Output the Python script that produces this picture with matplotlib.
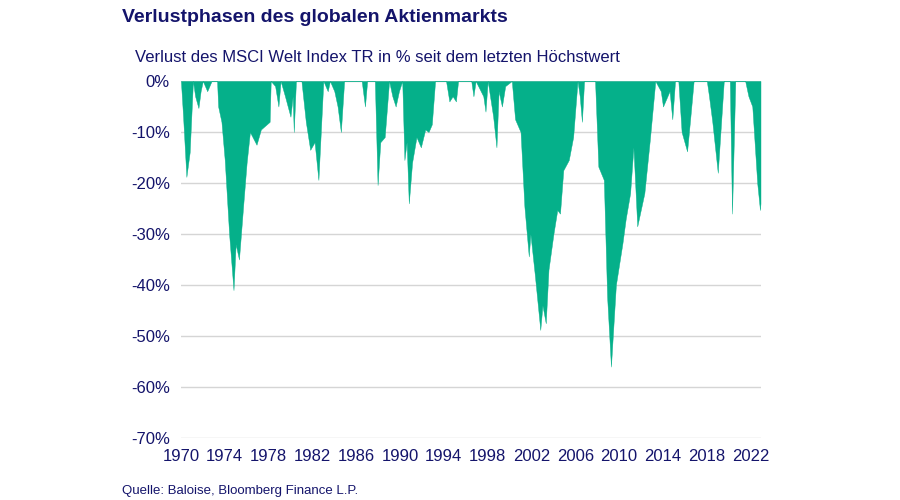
import numpy as np
import matplotlib.pyplot as plt

# drawdown of MSCI World TR (year, % below last high)
years = [1970.0, 1970.2, 1970.5, 1970.8, 1971.1, 1971.3, 1971.6, 1971.8, 1972.0, 1972.4, 1972.6, 1972.8,
         1973.3, 1973.4, 1973.7, 1974.0, 1974.4, 1974.8, 1975.0, 1975.3, 1975.7, 1976.0, 1976.3, 1976.9,
         1977.3, 1978.1, 1978.2, 1978.6, 1978.9, 1979.1, 1979.5, 1980.0, 1980.2, 1980.3, 1980.5, 1981.0,
         1981.4, 1981.8, 1982.2, 1982.55, 1983.0, 1983.4, 1983.6, 1984.0, 1984.3, 1984.6, 1984.9, 1986.5,
         1986.8, 1987.0, 1987.7, 1987.95, 1988.2, 1988.6, 1989.0, 1989.3, 1989.6, 1989.9, 1990.2, 1990.4,
         1990.6, 1990.8, 1991.1, 1991.5, 1991.9, 1992.3, 1992.6, 1992.9, 1993.2, 1994.2, 1994.5, 1994.8,
         1995.1, 1995.3, 1996.5, 1996.7, 1996.9, 1997.6, 1997.8, 1998.0, 1998.5, 1998.8, 1999.0, 1999.3,
         1999.6, 2000.2, 2000.5, 2001.0, 2001.35, 2001.75, 2001.9, 2002.3, 2002.8, 2003.0, 2003.3, 2003.55,
         2004.0, 2004.35, 2004.6, 2004.9, 2005.4, 2005.8, 2006.2, 2006.4, 2006.6, 2006.8, 2007.6, 2007.8,
         2008.1, 2008.6, 2008.9, 2009.25, 2009.7, 2010.3, 2010.6, 2011.0, 2011.3, 2011.65, 2012.3, 2012.8,
         2013.3, 2013.8, 2014.0, 2014.6, 2014.85, 2015.1, 2015.4, 2015.7, 2016.2, 2016.5, 2016.8, 2018.0,
         2018.2, 2018.5, 2019.0, 2019.55, 2020.1, 2020.3, 2020.6, 2021.5, 2021.8, 2022.15, 2022.6, 2022.85,
         2022.9]
drawdown = [0, -7, -18.8, -14, 0, -3, -5.3, -2, 0, -2, -1, 0,
            0, -5, -8, -15.5, -30, -41, -32, -35, -24, -16, -10, -12.5,
            -9.5, -8, 0, -1, -5, 0, -3, -7, -3, -10, 0, 0,
            -8, -13.5, -12, -19.4, 0, -2, 0, -2, -5, -10, 0, 0,
            -5, 0, 0, -20.4, -12, -11, 0, -3, -5, -2, 0, -15.5,
            -12, -24, -16, -11, -13, -9.5, -10, -8.5, 0, 0, -4, -3,
            -4, 0, 0, -3, 0, -3, -6, 0, -7, -13, -2, -5,
            -1, 0, -7.5, -10, -24.6, -34.4, -30, -38, -48.8, -44, -47.5, -37,
            -30, -25.3, -26, -17.5, -15.5, -11, 0, -3, -8, 0, 0, 0,
            -16.8, -19.4, -42.3, -56, -40, -31.8, -27, -22, -13, -28.5, -22, -11.5,
            0, -2, -5, -2, -7.5, 0, 0, -10, -13.8, -7, 0, 0,
            -3, -8, -18, 0, 0, -26, 0, 0, -3, -5, -20, -25.3,
            -24]

yticks = [0, -10, -20, -30, -40, -50, -60, -70]
xticks = list(range(1970, 2023, 4))

navy = '#14146b'
green = '#05b08a'

plt.rcParams['font.family'] = ['Liberation Sans', 'DejaVu Sans']
fig = plt.figure(figsize=(9, 5), dpi=100)
ax = fig.add_axes([0.201, 0.124, 0.644, 0.714])

ax.fill_between(years, drawdown, 0, color=green, linewidth=0.3, edgecolor=green)
ax.set_xlim(1970, 2022.9)
ax.set_ylim(-70, 0)
ax.set_yticks(yticks)
ax.set_yticklabels([f'{v}%' for v in yticks])
ax.set_xticks(xticks)
ax.grid(axis='y', color='#d5d5d5', linewidth=1)
ax.set_axisbelow(True)
for s in ax.spines.values():
    s.set_visible(False)
ax.tick_params(length=0, labelsize=12, colors=navy, pad=8)

fig.text(0.136, 0.955, 'Verlustphasen des globalen Aktienmarkts', fontsize=14, fontweight='bold', color=navy)
fig.text(0.15, 0.875, 'Verlust des MSCI Welt Index TR in % seit dem letzten Höchstwert', fontsize=12, color=navy)
fig.text(0.136, 0.012, 'Quelle: Baloise, Bloomberg Finance L.P.', fontsize=9.5, color=navy)

fig.savefig('out.png')
